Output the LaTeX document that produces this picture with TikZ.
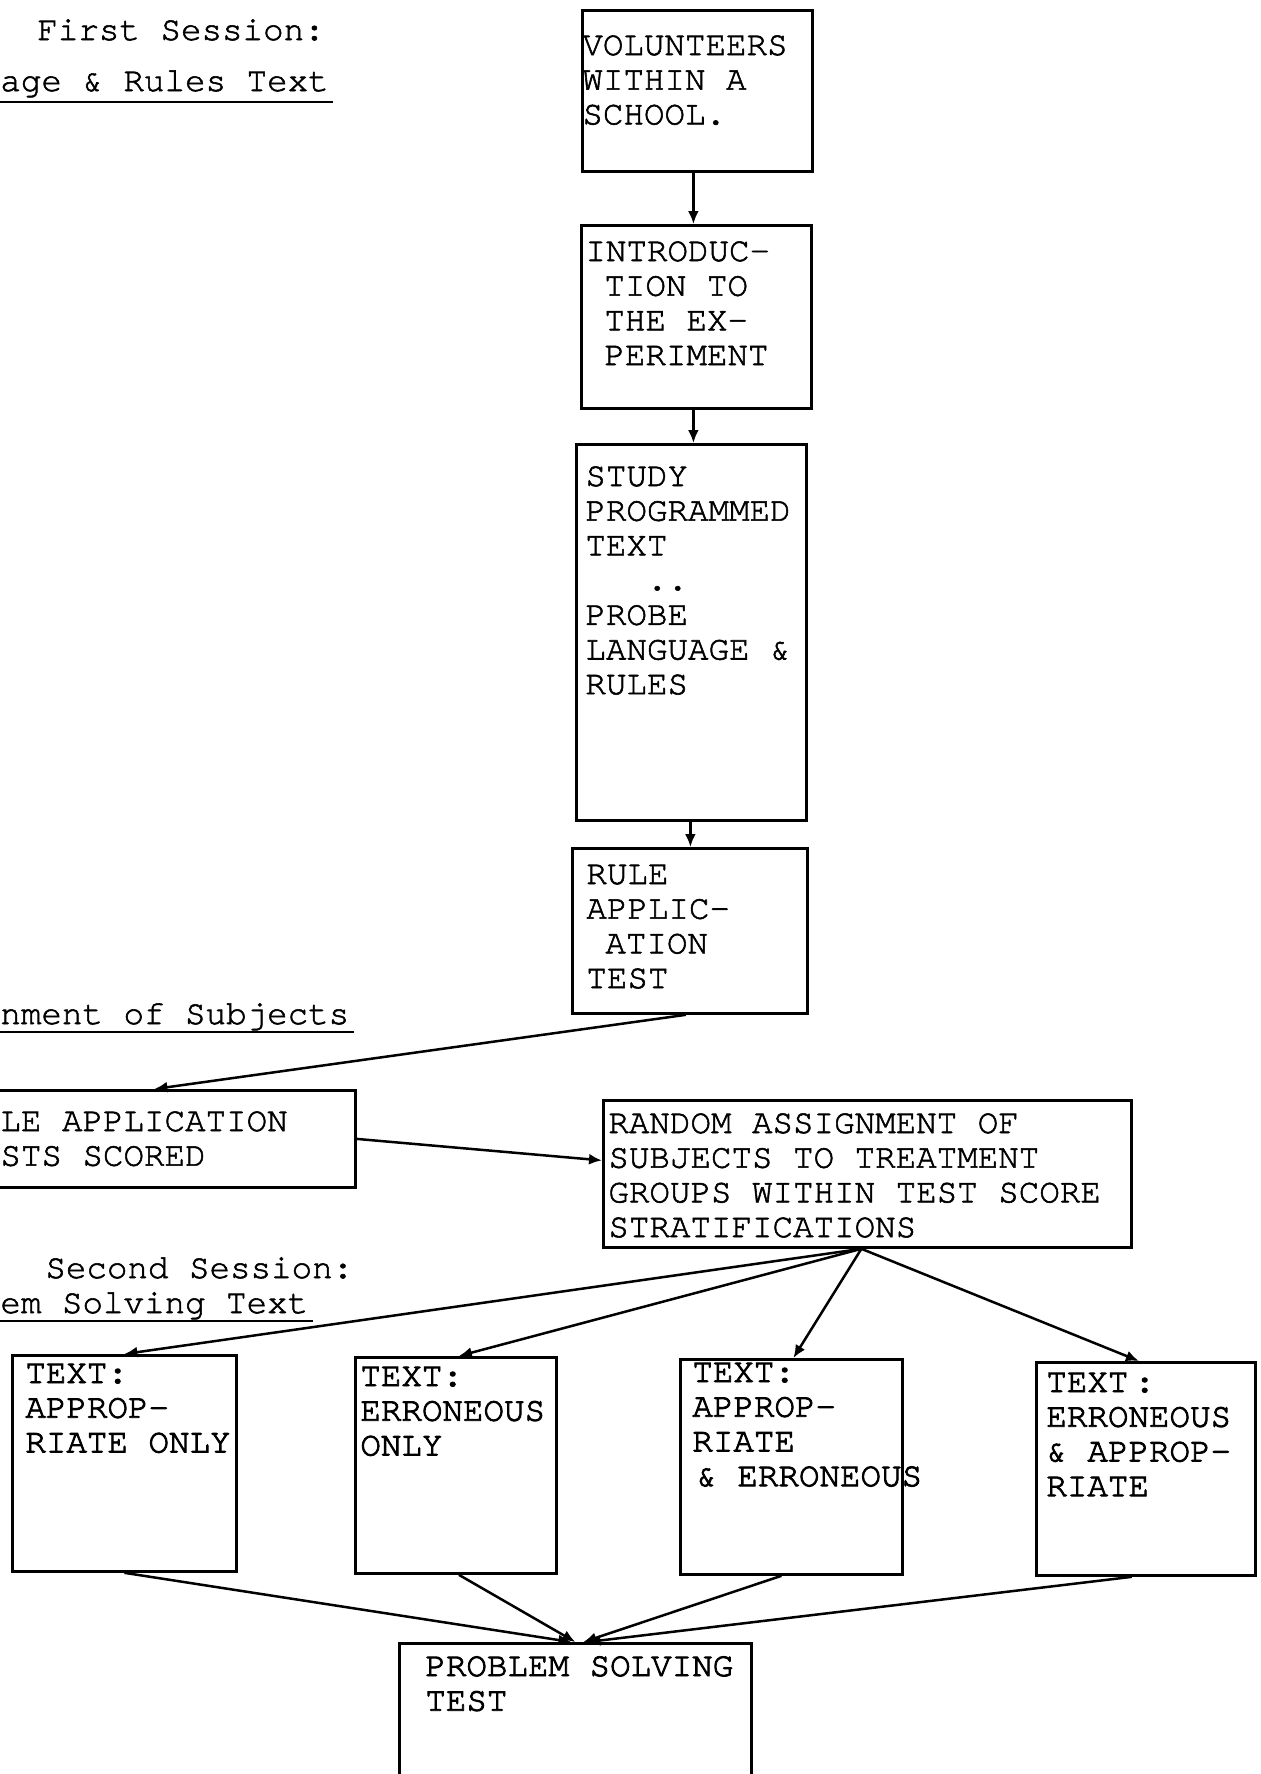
\documentclass[tikz,border=0pt]{standalone}
\usepackage{fontspec}
\newfontfamily\cour[FakeBold=1.6]{TeX Gyre Cursor}
\newfontfamily\courb[FakeBold=2.6]{TeX Gyre Cursor}
\usetikzlibrary{arrows.meta}
\newcommand{\ml}[1]{\parbox[t]{400pt}{\strut #1}}
\newcommand{\ind}{\hspace*{9.5pt}}
\begin{document}
\begin{tikzpicture}[x=0.5pt,y=-0.5pt,
  box/.style={draw, line width=1.4pt, anchor=north west, inner sep=0pt},
  txt/.style={anchor=base west, inner sep=0pt, font=\cour\fontsize{17.1pt}{17.35pt}\selectfont},
  txtb/.style={anchor=base west, inner sep=0pt, font=\courb\fontsize{17.1pt}{17.35pt}\selectfont},
  arr/.style={line width=1.25pt, -{Latex[length=6.5pt,width=5.5pt]}},
  uline/.style={line width=1.2pt}]
\useasboundingbox (0,0) rectangle (1261,1774);

% headings
\node[txt] (h1) at (37,40) {First Session:};
\node[txt] (h2) at (0,91) {age \& Rules Text};
\node[txt] (h3) at (0,1024) {nment of Subjects};
\node[txt] (h4) at (45,1278) {Second Session:};
\node[txt] (h5) at (0,1313) {em Solving Text};
\draw[uline] ([yshift=-5.5pt]h2.base west) -- ([yshift=-5.5pt,xshift=2pt]h2.base east);
\draw[uline] ([yshift=-4pt]h3.base west) -- ([yshift=-4pt,xshift=2pt]h3.base east);
\draw[uline] ([yshift=-4pt]h5.base west) -- ([yshift=-4pt,xshift=2pt]h5.base east);

% boxes
\node[box, minimum width=115pt, minimum height=80.5pt] (b1) at (581,9) {};
\node[box, minimum width=115pt, minimum height=91.5pt] (b2) at (580,224) {};
\node[box, minimum width=115pt, minimum height=188pt] (b3) at (575,443) {};
\node[box, minimum width=117.5pt, minimum height=82.5pt] (b4) at (571,847) {};
\node[box, minimum width=207pt, minimum height=48.5pt] (b5) at (-60,1089) {};
\node[box, minimum width=264pt, minimum height=73.5pt] (b6) at (602,1099) {};
\node[box, minimum width=112pt, minimum height=108pt] (b7) at (11,1354) {};
\node[box, minimum width=100.5pt, minimum height=108pt] (b8) at (354,1356) {};
\node[box, minimum width=111pt, minimum height=107.5pt] (b9) at (679,1358) {};
\node[box, minimum width=109.5pt, minimum height=106.5pt] (b10) at (1035,1361) {};
\node[box, minimum width=176pt, minimum height=94pt] (b11) at (398,1642) {};

% texts
\node[txt] (t1) at (582,55) {\ml{VOLUNTEERS\\WITHIN A\\SCHOOL.}};
\node[txt] (t2) at (585,261) {\ml{INTRODUC-\\\ind TION TO\\\ind THE EX-\\\ind PERIMENT}};
\node[txt] (t3) at (585,486) {\ml{STUDY\\PROGRAMMED\\TEXT\\\hphantom{XXX}..\\PROBE\\LANGUAGE \&\\RULES}};
\node[txt] (t4) at (586,884) {\ml{RULE\\APPLIC-\\\ind ATION\\TEST}};
\node[txt] (t5) at (0,1131) {\ml{LE APPLICATION\\STS SCORED}};
\node[txt] (t6) at (608,1133) {\ml{RANDOM ASSIGNMENT OF\\SUBJECTS TO TREATMENT\\GROUPS WITHIN TEST SCORE\\STRATIFICATIONS}};
\node[txtb] (t7) at (25,1383) {\ml{TEXT:\\APPROP-\\RIATE ONLY}};
\node[txtb] (t8) at (360,1386) {\ml{TEXT:\\ERRONEOUS\\ONLY}};
\node[txtb] (t9) at (692,1382) {\ml{TEXT:\\APPROP-\\RIATE\\\hspace*{2pt}\& ERRONEOUS}};
\node[txtb] (t10) at (1046,1392) {\ml{TEXT\hspace{3pt}:\\ERRONEOUS\\\& APPROP-\\RIATE}};
\node[txtb] (t11) at (425,1676) {\ml{PROBLEM SOLVING\\TEST}};

% connectors
\draw[arr] ([xshift=-2pt]b1.south) -- ([xshift=-1.5pt]b2.north);
\draw[arr] ([xshift=-1.5pt]b2.south) -- ([xshift=1pt]b3.north);
\draw[arr] ([xshift=-0.5pt]b3.south) -- ([xshift=0.25pt]b4.north);
\draw[arr] ([xshift=-2pt]b4.south) -- ([xshift=3pt]b5.north);
\draw[arr] (b5.east) -- ([yshift=6.75pt]b6.west);
\draw[arr] ([xshift=-3pt]b6.south) -- (b7.north);
\draw[arr] ([xshift=-3pt]b6.south) -- ([xshift=1.5pt]b8.north);
\draw[arr] ([xshift=-3pt]b6.south) -- ([xshift=1pt]b9.north);
\draw[arr] ([xshift=-3pt]b6.south) -- ([xshift=-3.5pt]b10.north);
\draw[arr] (b7.south) -- ([xshift=-2pt]b11.north);
\draw[arr] ([xshift=1.5pt]b8.south) -- (b11.north);
\draw[arr] ([xshift=-5pt]b9.south) -- ([xshift=4pt]b11.north);
\draw[arr] ([xshift=-7pt]b10.south) -- ([xshift=6pt]b11.north);
\end{tikzpicture}
\end{document}
